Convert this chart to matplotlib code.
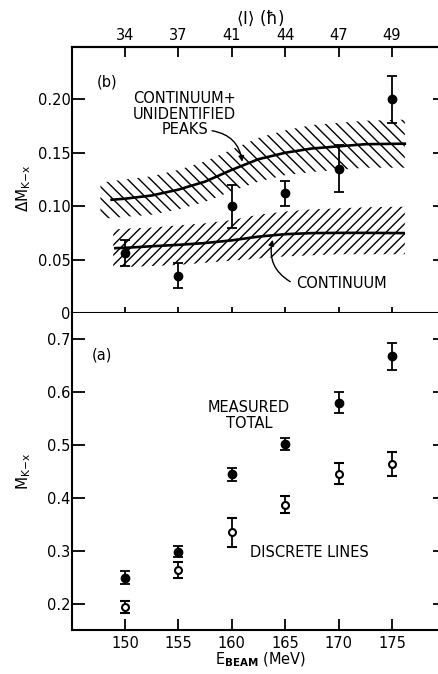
import numpy as np
from matplotlib import pyplot as plt
from matplotlib.lines import Line2D

plt.rcParams['font.family'] = ['DejaVu Sans']
plt.rcParams['font.size'] = 10.5
plt.rcParams['mathtext.default'] = 'regular'

# beam energies (MeV) and the matching mean spin <I>
e_beam = [150, 155, 160, 165, 170, 175]
spin_labels = ['34', '37', '41', '44', '47', '49']

# (b) excess multiplicity
dm = [0.056, 0.035, 0.100, 0.112, 0.135, 0.200]
dm_err = [0.012, 0.012, 0.020, 0.012, 0.022, 0.022]

# "continuum + unidentified peaks" curve and its band
cup_x = [148.75, 150, 152.5, 155, 157.5, 160, 162.5, 165, 167.5, 170, 172.5, 176.2]
cup_y = [0.106, 0.107, 0.110, 0.1155, 0.123, 0.134, 0.144, 0.150, 0.154, 0.156, 0.158, 0.1585]
cup_band_x = [147.7, 150, 152.5, 155, 157.5, 160, 162.5, 165, 167.5, 170, 172.5, 176.2]
cup_band_hi = [0.122, 0.125, 0.128, 0.134, 0.142, 0.153, 0.164, 0.171, 0.176, 0.178, 0.180, 0.181]
cup_band_lo = [0.088, 0.090, 0.092, 0.097, 0.104, 0.114, 0.123, 0.129, 0.132, 0.134, 0.136, 0.136]

# "continuum" curve and its band
con_x = [149.1, 150, 152.5, 155, 157.5, 160, 162.5, 165, 167.5, 170, 172.5, 176.1]
con_y = [0.0607, 0.061, 0.0625, 0.0638, 0.0655, 0.068, 0.0715, 0.0738, 0.0748, 0.075, 0.075, 0.0748]
con_band_x = [148.9, 150, 152.5, 155, 157.5, 160, 162.5, 165, 167.5, 170, 172.5, 176.2]
con_band_hi = [0.078, 0.079, 0.080, 0.082, 0.084, 0.087, 0.092, 0.095, 0.097, 0.098, 0.099, 0.0995]
con_band_lo = [0.043, 0.043, 0.044, 0.045, 0.047, 0.049, 0.051, 0.053, 0.054, 0.055, 0.055, 0.055]

# (a) multiplicities
m_total = [0.250, 0.299, 0.445, 0.502, 0.580, 0.667]
m_total_err = [0.012, 0.011, 0.012, 0.012, 0.020, 0.025]
m_discrete = [0.195, 0.264, 0.335, 0.387, 0.446, 0.464]
m_discrete_err = [0.011, 0.015, 0.027, 0.016, 0.020, 0.022]

W, H = 439, 674
fig = plt.figure(figsize=(W / 100, H / 100), dpi=100)

L = 72 / W
ax_b = fig.add_axes([L, 1 - 313 / H, 1 - L, (313 - 47) / H])
ax_a = fig.add_axes([L, 1 - 630 / H, 1 - L, (630 - 313) / H])

xlim = (145.04, 179.4)
for ax in (ax_b, ax_a):
    ax.set_xlim(*xlim)
    ax.spines['right'].set_visible(False)
    for s in ax.spines.values():
        s.set_linewidth(1.5)
ax_b.set_ylim(0, 0.249)
ax_a.set_ylim(0.151, 0.749)
ax_a.spines['top'].set_visible(False)


def hatch_band(ax, x, lo, hi, sign, step_px=11):
    # diagonal hatch lines clipped to the band
    poly = ax.fill_between(x, lo, hi, facecolor='none', edgecolor='none')
    path = poly.get_paths()[0]
    pos = ax.get_position()
    x0, x1 = ax.get_xlim()
    y0, y1 = ax.get_ylim()
    px_x = pos.width * fig.get_figwidth() * fig.dpi / (x1 - x0)
    px_y = pos.height * fig.get_figheight() * fig.dpi / (y1 - y0)
    k = sign * px_x / px_y
    step = step_px / px_x
    ymid = 0.5 * (min(lo) + max(hi))
    span = (max(hi) - min(lo)) / abs(k) + 2
    for xc in np.arange(min(x) - span, max(x) + span, step):
        xs = np.array([xc - span, xc + span])
        ln = Line2D(xs, ymid + k * (xs - xc), color='k', lw=1.0)
        ax.add_line(ln)
        ln.set_clip_path(path, ax.transData)


hatch_band(ax_b, cup_band_x, cup_band_lo, cup_band_hi, -1, 11.5)
hatch_band(ax_b, con_band_x, con_band_lo, con_band_hi, 1, 10)
ax_b.plot(cup_x, cup_y, color='k', lw=1.9)
ax_b.plot(con_x, con_y, color='k', lw=1.9)

ax_b.errorbar(e_beam, dm, yerr=dm_err, fmt='o', color='k', ms=6,
              elinewidth=1.3, capsize=3.8, capthick=1.3, zorder=5)

ax_a.errorbar(e_beam, m_total, yerr=m_total_err, fmt='o', color='k', ms=6,
              elinewidth=1.3, capsize=3.8, capthick=1.3, zorder=5)
ax_a.errorbar(e_beam, m_discrete, yerr=m_discrete_err, fmt='o', color='k',
              mfc='white', ms=5, mew=1.5, elinewidth=1.3, capsize=3.8,
              capthick=1.3, zorder=5)

# ticks
ax_b.set_xticks(e_beam)
ax_b.tick_params(axis='x', direction='inout', length=8, width=1.3, labelbottom=False)
ax_b.set_yticks([0, 0.05, 0.10, 0.15, 0.20], labels=['0', '0.05', '0.10', '0.15', '0.20'])
ax_b.tick_params(axis='y', direction='in', length=9, width=1.3, pad=1)

top = ax_b.secondary_xaxis('top')
top.set_xticks(e_beam, labels=spin_labels)
top.tick_params(direction='in', length=7, width=1.3, pad=3)
top.spines['top'].set_linewidth(1.5)

ax_a.set_xticks(e_beam)
ax_a.tick_params(axis='x', direction='in', length=8, width=1.3, pad=4)
ax_a.set_yticks([0.2, 0.3, 0.4, 0.5, 0.6, 0.7])
ax_a.tick_params(axis='y', direction='in', length=9, width=1.3, pad=1)

for ax, yt in ((ax_b, [0.05, 0.10, 0.15, 0.20]), (ax_a, [0.2, 0.3, 0.4, 0.5, 0.6, 0.7])):
    r = ax.secondary_yaxis('right')
    r.set_yticks(yt, labels=[])
    r.tick_params(direction='in', length=4.5, width=1.3)
    r.spines['right'].set_visible(False)

# labels
ax_b.set_ylabel(r'$\Delta$M$_{K\mathrm{-}x}$', fontsize=11)
ax_b.yaxis.set_label_coords(-0.105, 0.47)
ax_a.set_ylabel(r'M$_{K\mathrm{-}x}$', fontsize=11)
ax_a.yaxis.set_label_coords(-0.105, 0.5)
fig.text(261 / W, 1 - 660 / H, r'E$_{\mathbf{BEAM}}$ (MeV)', ha='center', va='center')
fig.text(260 / W, 1 - 18 / H, r'$\langle$I$\rangle$ ($\hbar$)', ha='center', va='center',
         fontsize=12)

# annotations
ax_b.text(147.4, 0.2167, '(b)', va='center')
ax_b.text(155.6, 0.186, 'CONTINUUM+\nUNIDENTIFIED\nPEAKS', ha='center', va='center',
          linespacing=1.05)
ax_b.annotate('', xy=(161.0, 0.139), xytext=(157.9, 0.171),
              arrowprops=dict(arrowstyle='-|>', connectionstyle='arc3,rad=-0.4',
                              color='k', lw=1, mutation_scale=8))
ax_b.text(166.0, 0.028, 'CONTINUUM', va='center')
ax_b.annotate('', xy=(163.9, 0.071), xytext=(165.7, 0.028),
              arrowprops=dict(arrowstyle='-|>', connectionstyle='arc3,rad=-0.4',
                              color='k', lw=1, mutation_scale=8))

ax_a.text(146.9, 0.670, '(a)', va='center')
ax_a.text(161.6, 0.555, 'MEASURED\nTOTAL', ha='center', va='center', linespacing=1.1)
ax_a.text(161.7, 0.298, 'DISCRETE LINES', va='center')

plt.savefig('out.png', dpi=100)
